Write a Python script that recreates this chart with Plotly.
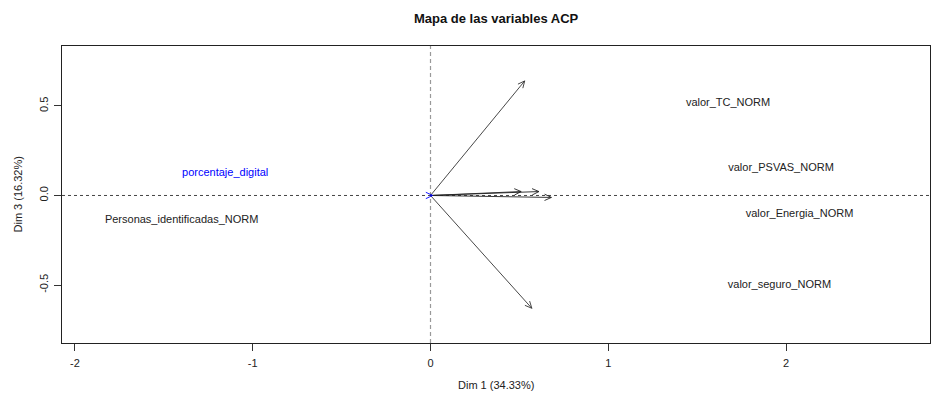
import math
import plotly.graph_objects as go

# ---- data ----
var_names = ["valor_TC_NORM", "valor_PSVAS_NORM", "valor_Energia_NORM",
             "valor_seguro_NORM", "Personas_identificadas_NORM", "porcentaje_digital"]
arrow_x = [0.53, 0.61, 0.68, 0.57, 0.51, 0.012]
arrow_y = [0.64, 0.022, -0.011, -0.63, 0.022, 0.0]
label_x = [1.674, 1.972, 2.076, 1.963, -1.40, -1.155]
label_y = [0.514, 0.151, -0.106, -0.503, -0.140, 0.123]
var_colors = ["#333333", "#222222", "#222222", "#333333", "#222222", "blue"]
label_colors = ["#222222"] * 5 + ["blue"]

x_ticks = [-2, -1, 0, 1, 2]
x_ticktext = ["-2", "-1", "0", "1", "2"]
y_ticks = [-0.5, 0.0, 0.5]
y_ticktext = ["-0.5", "0.0", "0.5"]
x_range = [-2.073, 2.81]
y_range = [-0.824, 0.835]

W, H = 931, 394
ML, MR, MT, MB = 62, 1, 46, 51
pw, ph = W - ML - MR, H - MT - MB
sx = pw / (x_range[1] - x_range[0])
sy = ph / (y_range[1] - y_range[0])

fig = go.Figure()

head_len, head_ang = 7.5, math.radians(25)
for xv, yv, c in zip(arrow_x, arrow_y, var_colors):
    xs = [0, xv]
    ys = [0, yv]
    dx, dy = xv * sx, yv * sy
    ang = math.atan2(dy, dx)
    for s in (1, -1):
        a = ang + math.pi + s * head_ang
        hx = xv + head_len * math.cos(a) / sx
        hy = yv + head_len * math.sin(a) / sy
        xs += [None, xv, hx]
        ys += [None, yv, hy]
    fig.add_trace(go.Scatter(x=xs, y=ys, mode="lines",
                             line=dict(color=c, width=0.9),
                             hoverinfo="skip", showlegend=False))

fig.add_trace(go.Scatter(x=label_x, y=label_y, mode="text", text=var_names,
                         textposition="middle center",
                         textfont=dict(family="Liberation Sans, Arial", size=11,
                                       color=label_colors),
                         hoverinfo="skip", showlegend=False))

fig.add_shape(type="line", xref="x", yref="y", x0=x_range[0], x1=x_range[1], y0=0, y1=0,
              line=dict(color="#444444", width=1, dash="3px,3px"), layer="below")
fig.add_shape(type="line", xref="x", yref="y", x0=0, x1=0, y0=y_range[0], y1=y_range[1],
              line=dict(color="#999999", width=1.2, dash="4px,3px"), layer="below")

fig.update_layout(
    width=W, height=H,
    margin=dict(l=ML, r=MR, t=MT, b=MB),
    paper_bgcolor="white", plot_bgcolor="white",
    font=dict(family="Liberation Sans, Arial", size=11, color="#222222"),
    xaxis=dict(range=x_range, tickvals=x_ticks, ticktext=x_ticktext,
               ticks="outside", ticklen=7, ticklabelstandoff=3,
               tickcolor="#333", showgrid=False, zeroline=False,
               showline=True, mirror=True, linecolor="#222", linewidth=1,
               tickfont=dict(size=11)),
    yaxis=dict(range=y_range, tickvals=y_ticks, ticktext=y_ticktext,
               ticks="outside", ticklen=7, tickangle=-90, ticklabelstandoff=2,
               tickcolor="#333",
               showgrid=False, zeroline=False,
               showline=True, mirror=True, linecolor="#222", linewidth=1,
               tickfont=dict(size=11)),
    annotations=[
        dict(text="<b>Mapa de las variables ACP</b>", xref="paper", yref="paper",
             x=0.5, y=1, yshift=28, showarrow=False, yanchor="middle",
             font=dict(size=13, color="#111")),
        dict(text="Dim 1 (34.33%)", xref="paper", yref="paper",
             x=0.5, y=0, yshift=-42, showarrow=False, yanchor="middle",
             font=dict(size=11)),
        dict(text="Dim 3 (16.32%)", xref="paper", yref="paper",
             x=0, y=0.5, xshift=-45, showarrow=False, textangle=-90,
             xanchor="center", font=dict(size=11)),
    ],
)

fig.write_html("out.html")
